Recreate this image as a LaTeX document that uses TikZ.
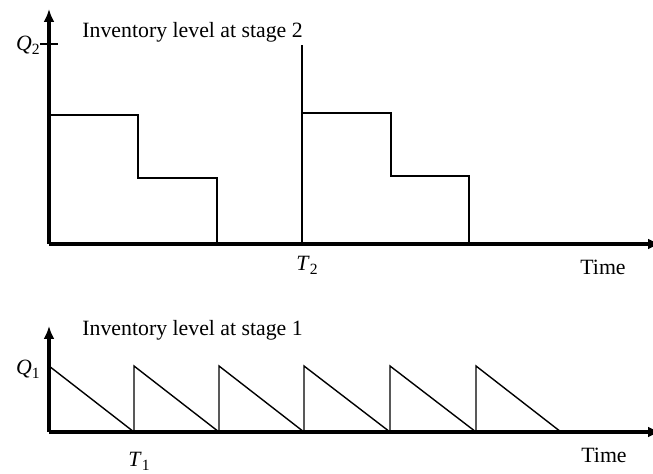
\documentclass[tikz,border=0pt]{standalone}
\usepackage{fontspec}
\setmainfont{Liberation Serif}
\usetikzlibrary{arrows.meta}
\newcommand\mysub[1]{\raisebox{-0.4ex}{\fontsize{7.8}{9}\selectfont #1}}
\begin{document}
\begin{tikzpicture}[x=0.5pt,y=-0.5pt,
  axisline/.style={line width=1.7pt,-{Latex[length=6.5pt,width=5.5pt]}},
  plotline/.style={line width=0.7pt,line join=miter},
  lbl/.style={inner sep=0pt,font=\fontsize{10.9}{12}\selectfont}]
\useasboundingbox (0,0) rectangle (653,474);
\clip (0,0) rectangle (653,474);
% ---------- top chart ----------
\coordinate (o2) at (49,244);
\coordinate (ytop2) at (49,9);
\coordinate (xend2) at (661,244);
\draw[axisline] (o2) -- (ytop2);
\draw[axisline] (o2) -- (xend2);
\coordinate (q2l) at (40,44);
\coordinate (q2r) at (58,44);
\draw[line width=0.7pt] (q2l) -- (q2r);
\node[lbl,anchor=east] (q2) at (40,45) {\textit{Q}\mysub{2}};
\node[lbl,anchor=base west] (title2) at (82,38) {Inventory level at stage 2};
\node[lbl,anchor=base west] (t2) at (296,271) {\textit{T}\mysub{2}};
\node[lbl,anchor=base west] (time2) at (580,275) {Time};
\draw[plotline] (49,115) -- (138,115) -- (138,178) -- (217,178) -- (217,244);
\draw[plotline] (302,244) -- (302,45);
\draw[plotline] (302,113) -- (391,113) -- (391,176) -- (469,176) -- (469,244);
% ---------- bottom chart ----------
\coordinate (o1) at (49,432);
\coordinate (ytop1) at (49,326);
\coordinate (xend1) at (661,432);
\draw[axisline] (o1) -- (ytop1);
\draw[axisline] (o1) -- (xend1);
\node[lbl,anchor=east] (q1) at (40,369) {\textit{Q}\mysub{1}};
\node[lbl,anchor=base west] (title1) at (82,336) {Inventory level at stage 1};
\node[lbl,anchor=base west] (t1) at (128,467) {\textit{T}\mysub{1}};
\node[lbl,anchor=base west] (time1) at (581,463) {Time};
\draw[plotline] (49,366) -- (134,432) -- (134,366) -- (219,432) -- (219,366) -- (304,432)
  -- (304,366) -- (390,432) -- (390,366) -- (476,432) -- (476,366) -- (561,432);
\end{tikzpicture}
\end{document}
